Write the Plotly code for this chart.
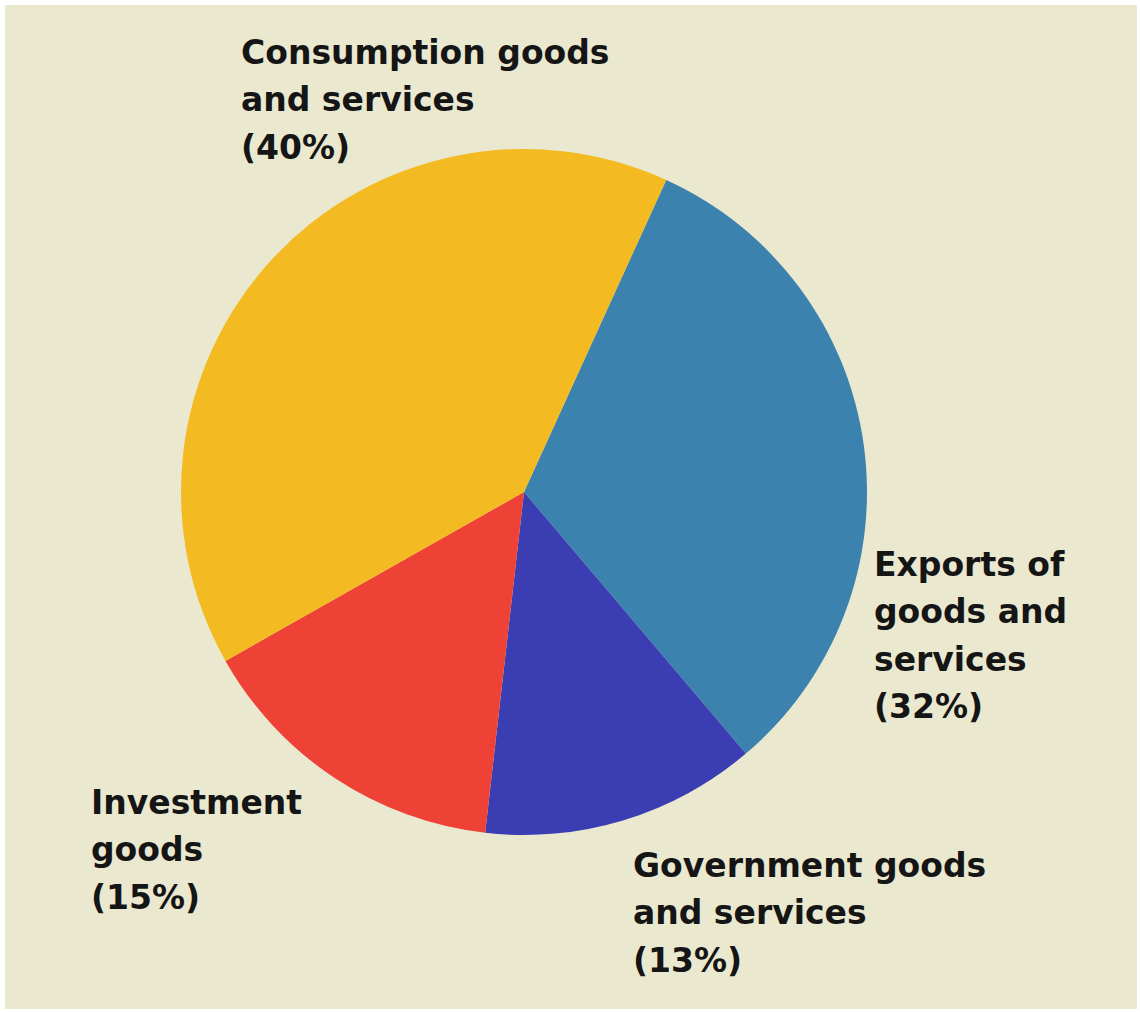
import plotly.graph_objects as go

# Shares of spending, clockwise from the top-right boundary
categories = ["Exports of goods and services", "Government goods and services",
              "Investment goods", "Consumption goods and services"]
shares = [32, 13, 15, 40]
slice_colors = ["#3B83AE", "#3B3EB2", "#EE4236", "#F3BA22"]

# Label text blocks (one per slice): lines, left edge and first baseline in pixels
label_lines = [
    ["Exports of", "goods and", "services", "(32%)"],
    ["Government goods", "and services", "(13%)"],
    ["Investment", "goods", "(15%)"],
    ["Consumption goods", "and services", "(40%)"],
]
label_pos = [(872, 575), (631, 876), (89, 813), (239, 63)]
line_gap = 47.5
font_size = 33

W, H = 1140, 1012
cx, cy, r = 524, 492, 343

fig = go.Figure(go.Pie(
    labels=categories,
    values=shares,
    sort=False,
    direction="clockwise",
    rotation=24.5,
    marker=dict(colors=slice_colors, line=dict(width=0)),
    textinfo="none",
    hoverinfo="label+percent",
    showlegend=False,
    domain=dict(x=[(cx - r) / W, (cx + r) / W],
                y=[1 - (cy + r) / H, 1 - (cy - r) / H]),
))

# One annotation per line so the leading can be set freely
for lines, (px, base) in zip(label_lines, label_pos):
    for i, t in enumerate(lines):
        mid = base + i * line_gap - 0.33 * font_size
        fig.add_annotation(
            text=f"<b>{t}</b>",
            x=px / W, y=1 - mid / H, xref="paper", yref="paper",
            xanchor="left", yanchor="middle", align="left", showarrow=False,
            font=dict(family="DejaVu Sans", size=font_size, color="#151515"),
        )

# Beige paper inside a thin white edge
fig.add_shape(type="rect", xref="paper", yref="paper",
              x0=5 / W, x1=1 - 3 / W, y0=3 / H, y1=1 - 5 / H,
              fillcolor="#EBE8D0", line=dict(width=0), layer="below")

fig.update_layout(
    width=W, height=H,
    margin=dict(l=0, r=0, t=0, b=0),
    paper_bgcolor="#FFFFFF",
    plot_bgcolor="#EBE8D0",
)

fig.write_html("out.html")
